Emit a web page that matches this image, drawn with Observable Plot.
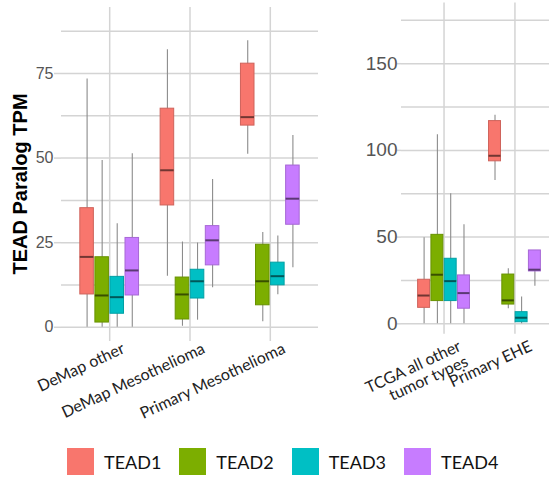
<!DOCTYPE html>
<html>
<head>
<meta charset="utf-8">
<script src="https://cdn.jsdelivr.net/npm/d3@7"></script>
<script src="https://cdn.jsdelivr.net/npm/@observablehq/plot@0.6"></script>
<style>
  html, body { margin: 0; padding: 0; background: #fff; }
  #wrap { position: relative; width: 549px; height: 480px; overflow: hidden; background: #fff; }
  #wrap svg { max-width: none !important; }
  #left, #right { position: absolute; top: 0; }
  #left { left: 0; width: 322px; }
  #right { left: 320px; width: 240px; }
  #ytitle { position: absolute; left: 20px; top: 184px; transform: translate(-50%, -50%) rotate(-90deg);
    font: bold 20px "Liberation Sans", Arial, sans-serif; color: #000; white-space: nowrap; }
  #legend { position: absolute; left: 67px; top: 448px; display: flex; gap: 18px; align-items: center; }
  .item { display: flex; align-items: center; gap: 10px; font: 18px Lato, "Open Sans", sans-serif; color: #111; }
  .sw { width: 27px; height: 27px; }
</style>
</head>
<body>
<div id="wrap">
  <div id="left"></div>
  <div id="right"></div>
  <div id="ytitle">TEAD Paralog TPM</div>
  <div id="legend"></div>
</div>
<script>
const series = ["TEAD1", "TEAD2", "TEAD3", "TEAD4"];
const colors = ["#F8766D", "#7CAE00", "#00BFC4", "#C77CFF"];

// Left panel
const leftGroups = ["DeMap other", "DeMap Mesothelioma", "Primary Mesothelioma"];
const leftTicks = [0, 25, 50, 75];
const leftMinor = [12.5, 37.5, 62.5, 87.5];
const leftLow    = [[0, 0, 0, 0], [15.1, 0.3, 2.1, 11.7], [51.1, 1.6, 9.6, 17.6]];
const leftQ1     = [[9.7, 1.4, 4.0, 9.4], [36.0, 2.3, 8.5, 18.3], [59.6, 6.5, 12.4, 30.3]];
const leftMedian = [[20.8, 9.4, 8.9, 16.8], [46.4, 9.7, 13.6, 25.7], [62.1, 13.6, 15.1, 38.0]];
const leftQ3     = [[35.2, 20.7, 14.9, 26.4], [64.6, 14.7, 17.0, 29.9], [77.9, 24.4, 19.1, 47.8]];
const leftHigh   = [[73.4, 49.3, 30.6, 51.3], [82.0, 25.2, 24.9, 43.7], [84.7, 28.0, 27.0, 56.7]];

// Right panel
const rightGroups = ["TCGA all other\ntumor types", "Primary EHE"];
const rightTicks = [0, 50, 100, 150];
const rightMinor = [25, 75, 125, 175];
const rightLow    = [[0, 0, 0, 0], [82.7, 8.7, 0, 21.7]];
const rightQ1     = [[9.2, 13.1, 13.1, 8.7], [93.7, 11.1, 0.9, 30.2]];
const rightMedian = [[16.3, 28.3, 24.6, 17.7], [96.9, 13.5, 3.5, 31.2]];
const rightQ3     = [[25.4, 51.3, 37.5, 27.9], [116.9, 28.4, 6.7, 42.3]];
const rightHigh   = [[49.6, 109, 75, 57.1], [120.2, 31.7, 15.4, 42.3]];

const GRID = "#d4d4d4";
const DODGE = 0.75 / series.length;   // dodge slot per series (group units)
const HALF = DODGE * 0.9 / 2;          // half box width

function rowsFor(groups, low, q1, med, q3, high) {
  const rows = [];
  groups.forEach((g, gi) => {
    series.forEach((s, si) => {
      const c = colors[si];
      rows.push({
        group: g, series: s,
        cx: gi + 1 + (si - (series.length - 1) / 2) * DODGE,
        low: low[gi][si], q1: q1[gi][si], median: med[gi][si], q3: q3[gi][si], high: high[gi][si],
        fill: c,
        border: d3.color(c).darker(0.5).formatHex(),
        mid: d3.color(c).darker(2.2).formatHex()
      });
    });
  });
  return rows;
}

function panel({groups, ticks, minor, rows, width, height, marginLeft, marginRight, marginTop, marginBottom,
                yDomain, tickFont, tickSize, tickPadding, labelFont, labelDx, labelDy}) {
  return Plot.plot({
    width, height, marginLeft, marginRight, marginTop, marginBottom,
    x: {domain: [0.4, groups.length + 0.6], axis: null},
    y: {domain: yDomain, axis: null},
    style: {fontFamily: "Lato, sans-serif", background: "transparent", overflow: "visible", maxWidth: "none"},
    marks: [
      Plot.ruleY(minor, {stroke: GRID, strokeWidth: 1.5}),
      Plot.ruleY(ticks, {stroke: GRID, strokeWidth: 1.5}),
      Plot.axisY(ticks, {anchor: "left", tickSize, tickPadding, stroke: GRID, strokeWidth: 1.5,
        fill: "#555", fontSize: tickFont, fontFamily: "Liberation Sans, Arial, sans-serif"}),
      Plot.ruleX(groups, {x: (d, i) => i + 1, stroke: GRID, strokeWidth: 1.5}),
      Plot.ruleX(rows, {x: "cx", y1: "low", y2: "high", stroke: "#8c8c8c", strokeWidth: 1.1}),
      Plot.rect(rows, {x1: d => d.cx - HALF, x2: d => d.cx + HALF, y1: "q1", y2: "q3",
        fill: d => d.fill, stroke: d => d.border, strokeWidth: 1}),
      Plot.ruleY(rows, {x1: d => d.cx - HALF, x2: d => d.cx + HALF, y: "median",
        stroke: d => d.mid, strokeWidth: 2}),
      Plot.text(groups, {x: (d, i) => i + 1, text: d => d, frameAnchor: "bottom",
        dx: labelDx, dy: labelDy, rotate: -25, textAnchor: "end", lineAnchor: "top", lineHeight: 1.05,
        fontSize: labelFont, fontFamily: "Lato, sans-serif", fill: "#222"})
    ]
  });
}

document.getElementById("left").appendChild(panel({
  groups: leftGroups, ticks: leftTicks, minor: leftMinor,
  rows: rowsFor(leftGroups, leftLow, leftQ1, leftMedian, leftQ3, leftHigh),
  width: 322, height: 430, marginLeft: 61, marginRight: 4, marginTop: 7, marginBottom: 89,
  yDomain: [-4.2, 94.5], tickFont: 16, tickSize: 7, tickPadding: 1,
  labelFont: 16, labelDx: 11, labelDy: 0
}));

document.getElementById("right").appendChild(panel({
  groups: rightGroups, ticks: rightTicks, minor: rightMinor,
  rows: rowsFor(rightGroups, rightLow, rightQ1, rightMedian, rightQ3, rightHigh),
  width: 240, height: 430, marginLeft: 81, marginRight: 3, marginTop: 2.5, marginBottom: 96.3,
  yDomain: [-6, 185], tickFont: 19, tickSize: 4, tickPadding: 0,
  labelFont: 16, labelDx: 13, labelDy: 5
}));

const legend = document.getElementById("legend");
series.forEach((s, i) => {
  const item = document.createElement("div");
  item.className = "item";
  const sw = document.createElement("div");
  sw.className = "sw";
  sw.style.background = colors[i];
  const label = document.createElement("span");
  label.textContent = s;
  item.appendChild(sw);
  item.appendChild(label);
  legend.appendChild(item);
});
</script>
</body>
</html>
